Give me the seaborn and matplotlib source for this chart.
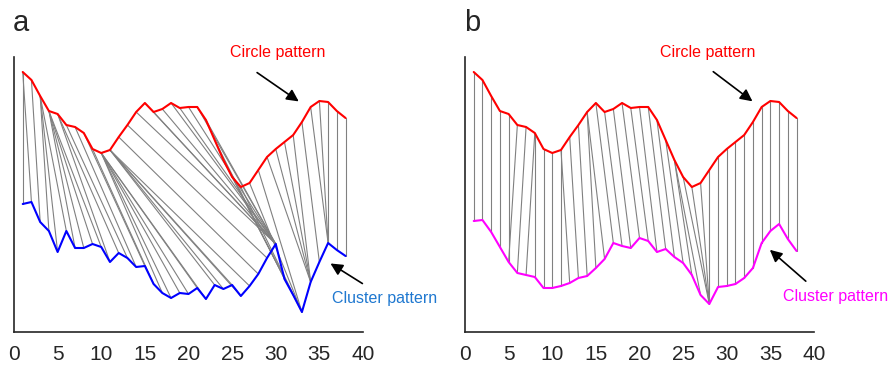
import numpy as np
import pandas as pd
import matplotlib
matplotlib.use("Agg")
import matplotlib.pyplot as plt
import seaborn as sns

t = list(range(1, 39))
circle = [2.60, 2.52, 2.36, 2.21, 2.18, 2.07, 2.05, 1.99, 1.83, 1.79, 1.82, 1.95, 2.07, 2.20,
          2.29, 2.20, 2.23, 2.29, 2.24, 2.25, 2.25, 2.12, 1.92, 1.72, 1.55, 1.45, 1.49, 1.62,
          1.75, 1.83, 1.90, 1.97, 2.10, 2.25, 2.31, 2.30, 2.21, 2.14]
cluster_a = [1.28, 1.30, 1.10, 1.01, 0.80, 1.01, 0.84, 0.84, 0.88, 0.85, 0.70, 0.79, 0.74, 0.65,
             0.66, 0.48, 0.39, 0.34, 0.39, 0.38, 0.44, 0.33, 0.47, 0.43, 0.47, 0.36, 0.46, 0.58,
             0.74, 0.88, 0.53, 0.37, 0.20, 0.50, 0.70, 0.89, 0.82, 0.76]
cluster_b = [1.11, 1.12, 1.00, 0.85, 0.70, 0.59, 0.57, 0.55, 0.44, 0.44, 0.46, 0.49, 0.54, 0.56,
             0.64, 0.73, 0.89, 0.86, 0.84, 0.94, 0.91, 0.80, 0.83, 0.75, 0.69, 0.57, 0.37, 0.28,
             0.45, 0.46, 0.48, 0.54, 0.64, 0.89, 1.01, 1.08, 0.93, 0.81]

# alignment (circle index -> cluster index, 1-based)
b_circle_idx = [1, 2, 3, 4, 5, 6, 7, 8, 8, 9, 10, 11, 11, 12, 13, 14, 14, 15, 16, 17, 18, 19, 20,
                21, 22, 23, 24, 24, 25, 26, 27, 28, 29, 30, 31, 32, 33, 34, 35, 36, 37, 38]
b_cluster_idx = [1, 2, 3, 4, 5, 5, 6, 7, 8, 9, 10, 11, 12, 13, 14, 15, 16, 17, 18, 19, 20, 21, 22,
                 23, 24, 25, 26, 27, 28, 28, 28, 28, 29, 30, 31, 32, 33, 34, 35, 36, 37, 38]


def znorm(v):
    v = np.asarray(v)
    return (v - v.mean()) / v.std()


# DTW alignment of the z-normalised series (squared distance), used for panel a
def dtw_path(a, b):
    a, b = znorm(a), znorm(b)
    n, m = len(a), len(b)
    D = np.full((n + 1, m + 1), np.inf)
    D[0, 0] = 0
    for i in range(1, n + 1):
        for j in range(1, m + 1):
            D[i, j] = (a[i - 1] - b[j - 1]) ** 2 + min(D[i - 1, j], D[i, j - 1], D[i - 1, j - 1])
    i, j = n, m
    path = [(i - 1, j - 1)]
    while i > 1 or j > 1:
        steps = [(D[i - 1, j - 1], i - 1, j - 1), (D[i - 1, j], i - 1, j), (D[i, j - 1], i, j - 1)]
        _, i, j = min(steps)
        path.append((i - 1, j - 1))
    return path[::-1]


def draw(ax, low, path, low_color, text_color, label, circ_txt, circ_arrow, clus_txt, clus_arrow):
    segs = []
    for k, (i, j) in enumerate(path):
        segs.append({"pair": k, "x": t[i], "y": circle[i]})
        segs.append({"pair": k, "x": t[j], "y": low[j]})
    seg = pd.DataFrame(segs)
    sns.lineplot(data=seg, x="x", y="y", units="pair", estimator=None, sort=False,
                 color="gray", lw=0.8, ax=ax)
    sns.lineplot(x=t, y=circle, color="red", lw=1.5, ax=ax)
    sns.lineplot(x=t, y=low, color=low_color, lw=1.5, ax=ax)

    ax.set_xlim(0, 40)
    ax.set_ylim(0, 2.75)
    ax.set_xticks(range(0, 41, 5))
    ax.set_yticks([])
    ax.set_xlabel("")
    ax.set_ylabel("")
    ax.tick_params(axis="x", direction="in", length=4, labelsize=15, pad=9)
    sns.despine(ax=ax)
    for s in ["left", "bottom"]:
        ax.spines[s].set_linewidth(1.2)

    ax.annotate("", xy=circ_arrow[1], xytext=circ_arrow[0], annotation_clip=False,
                arrowprops=dict(arrowstyle="-|>", color="black", lw=1.2, mutation_scale=18))
    ax.text(circ_txt[0], circ_txt[1], "Circle pattern", color="red", fontsize=11.5,
            ha="center", va="center", clip_on=False)
    ax.annotate("", xy=clus_arrow[1], xytext=clus_arrow[0], annotation_clip=False,
                arrowprops=dict(arrowstyle="-|>", color="black", lw=1.2, mutation_scale=18))
    ax.text(clus_txt[0], clus_txt[1], "Cluster pattern", color=text_color, fontsize=11.5,
            ha="center", va="center", clip_on=False)
    ax.text(-0.1, 3.09, label, fontsize=21, ha="left", va="center", clip_on=False)


sns.set_style("white")
plt.rcParams["font.family"] = ["Liberation Sans", "DejaVu Sans"]

fig = plt.figure(figsize=(8.89, 3.65), dpi=100)
ax1 = fig.add_axes([14 / 889, 33 / 365, 349 / 889, 275 / 365])
ax2 = fig.add_axes([465 / 889, 33 / 365, 349 / 889, 275 / 365])

path_a = dtw_path(circle, cluster_a)
path_b = [(i - 1, j - 1) for i, j in zip(b_circle_idx, b_cluster_idx)]

draw(ax1, cluster_a, path_a, "blue", "#1f78d0", "a",
     (30.2, 2.80), ((27.6, 2.61), (32.9, 2.29)),
     (42.5, 0.33), ((40.2, 0.47), (36.0, 0.70)))
draw(ax2, cluster_b, path_b, "magenta", "magenta", "b",
     (27.8, 2.80), ((28.2, 2.62), (33.2, 2.29)),
     (42.5, 0.35), ((39.3, 0.49), (34.7, 0.84)))

fig.savefig("out.png", dpi=100)
